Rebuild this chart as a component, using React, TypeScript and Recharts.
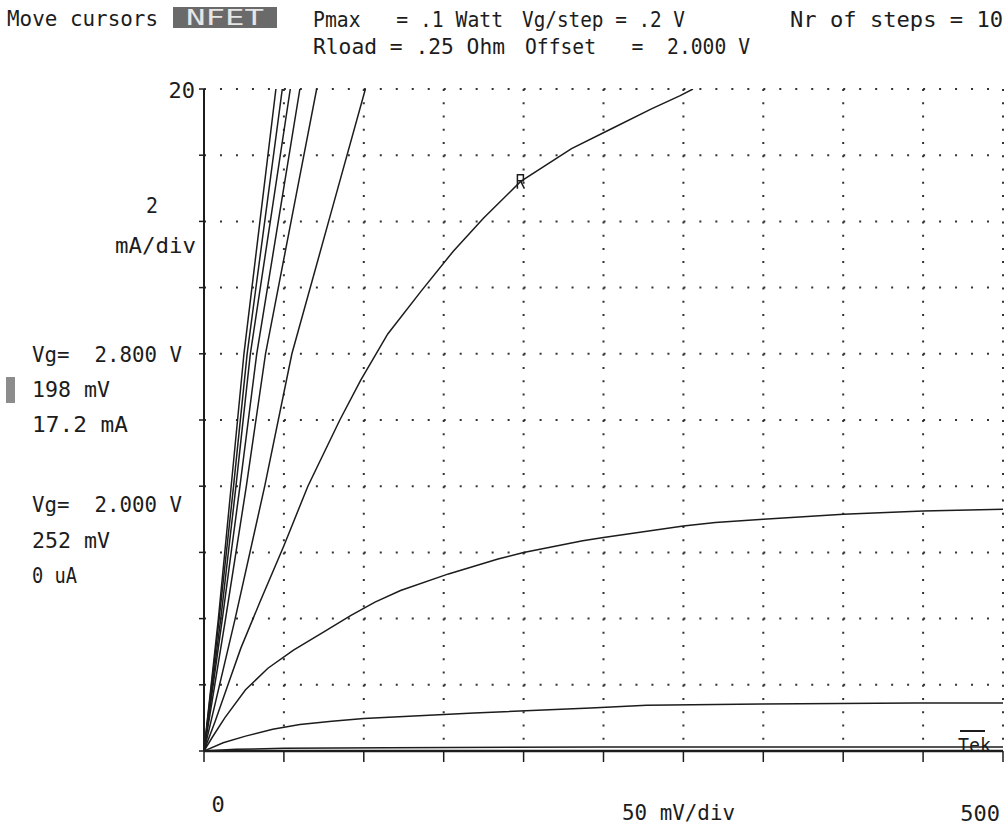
import { CartesianGrid, Line, LineChart, ReferenceDot, XAxis, YAxis } from "recharts";

// drain voltage (mV) ticks and drain current (mA) ticks
const voltTicks = [0, 50, 100, 150, 200, 250, 300, 350, 400, 450, 500];
const currentTicks = [0, 2, 4, 6, 8, 10, 12, 14, 16, 18, 20];

// one curve per gate voltage step: v = mV, i = mA
const vg20 = [
  { v: 0, i: 0 },
  { v: 500, i: 0 },
];
const vg22 = [
  { v: 0, i: 0 },
  { v: 20, i: 0.05 },
  { v: 50, i: 0.08 },
  { v: 115, i: 0.1 },
  { v: 250, i: 0.12 },
  { v: 500, i: 0.12 },
];
const vg24 = [
  { v: 0, i: 0 },
  { v: 12, i: 0.25 },
  { v: 26, i: 0.45 },
  { v: 43, i: 0.66 },
  { v: 60, i: 0.8 },
  { v: 80, i: 0.9 },
  { v: 100, i: 0.98 },
  { v: 169, i: 1.15 },
  { v: 242, i: 1.3 },
  { v: 277, i: 1.38 },
  { v: 349, i: 1.42 },
  { v: 445, i: 1.45 },
  { v: 500, i: 1.45 },
];
const vg26 = [
  { v: 0, i: 0 },
  { v: 5, i: 0.4 },
  { v: 13, i: 1.0 },
  { v: 26, i: 1.85 },
  { v: 40, i: 2.5 },
  { v: 56, i: 3.05 },
  { v: 75, i: 3.6 },
  { v: 92, i: 4.1 },
  { v: 107, i: 4.5 },
  { v: 123, i: 4.85 },
  { v: 153, i: 5.35 },
  { v: 184, i: 5.8 },
  { v: 200, i: 6.0 },
  { v: 237, i: 6.35 },
  { v: 250, i: 6.45 },
  { v: 300, i: 6.8 },
  { v: 320, i: 6.9 },
  { v: 350, i: 7.0 },
  { v: 400, i: 7.15 },
  { v: 450, i: 7.25 },
  { v: 500, i: 7.3 },
];
const vg28 = [
  { v: 0, i: 0 },
  { v: 7, i: 0.9 },
  { v: 15, i: 2.0 },
  { v: 23, i: 3.1 },
  { v: 35, i: 4.5 },
  { v: 50, i: 6.2 },
  { v: 65, i: 8.0 },
  { v: 85, i: 10.0 },
  { v: 98, i: 11.2 },
  { v: 115, i: 12.6 },
  { v: 136, i: 13.9 },
  { v: 156, i: 15.1 },
  { v: 175, i: 16.1 },
  { v: 198, i: 17.2 },
  { v: 230, i: 18.2 },
  { v: 255, i: 18.8 },
  { v: 280, i: 19.4 },
  { v: 298, i: 19.8 },
  { v: 306, i: 20 },
];
const vg30 = [
  { v: 0, i: 0 },
  { v: 19.5, i: 4 },
  { v: 38, i: 8 },
  { v: 55, i: 12 },
  { v: 78, i: 16 },
  { v: 101, i: 20 },
];
const vg32 = [
  { v: 0, i: 0 },
  { v: 13.5, i: 4 },
  { v: 26.5, i: 8 },
  { v: 38.5, i: 12 },
  { v: 54.5, i: 16 },
  { v: 70.5, i: 20 },
];
const vg34 = [
  { v: 0, i: 0 },
  { v: 11.5, i: 4 },
  { v: 22.5, i: 8 },
  { v: 33, i: 12 },
  { v: 46.5, i: 16 },
  { v: 60, i: 20 },
];
const vg36 = [
  { v: 0, i: 0 },
  { v: 10.5, i: 4 },
  { v: 20, i: 8 },
  { v: 29, i: 12 },
  { v: 41.5, i: 16 },
  { v: 54, i: 20 },
];
const vg38 = [
  { v: 0, i: 0 },
  { v: 9.5, i: 4 },
  { v: 18.5, i: 8 },
  { v: 27, i: 12 },
  { v: 38, i: 16 },
  { v: 49, i: 20 },
];
const vg40 = [
  { v: 0, i: 0 },
  { v: 9, i: 4 },
  { v: 17, i: 8 },
  { v: 25, i: 12 },
  { v: 35, i: 16 },
  { v: 45, i: 20 },
];

const curves = [
  { name: "2.0", data: vg20 },
  { name: "2.2", data: vg22 },
  { name: "2.4", data: vg24 },
  { name: "2.6", data: vg26 },
  { name: "2.8", data: vg28 },
  { name: "3.0", data: vg30 },
  { name: "3.2", data: vg32 },
  { name: "3.4", data: vg34 },
  { name: "3.6", data: vg36 },
  { name: "3.8", data: vg38 },
  { name: "4.0", data: vg40 },
];

// cursor readout on the 2.8 V curve
const cursor = { v: 198, i: 17.2 };

const FONT = '"DejaVu Sans Mono", "Liberation Mono", monospace';
const INK = "#1c1c1c";

function T({ x, y, w, size = 22, fill = INK, children }: any) {
  return (
    <text
      x={x}
      y={y}
      fontFamily={FONT}
      fontSize={size}
      fill={fill}
      textLength={w}
      lengthAdjust="spacingAndGlyphs"
      style={{ whiteSpace: "pre" }}
    >
      {children}
    </text>
  );
}

function VoltTick({ x, payload }: any) {
  if (payload.value === 0)
    return (
      <text x={x + 14} y={812} textAnchor="middle" fontFamily={FONT} fontSize={22} fill={INK}>
        0
      </text>
    );
  if (payload.value === 500)
    return (
      <text x={x - 3} y={821} textAnchor="end" fontFamily={FONT} fontSize={22} fill={INK}>
        500
      </text>
    );
  return <g />;
}

function CurrentTick({ y, payload }: any) {
  if (payload.value !== 20) return <g />;
  return (
    <text x={195} y={y + 9} textAnchor="end" fontFamily={FONT} fontSize={22} fill={INK}>
      20
    </text>
  );
}

function CursorMark({ cx, cy }: any) {
  return (
    <path
      d={`M${cx - 3},${cy + 7} L${cx - 3},${cy - 7} L${cx + 3},${cy - 7} L${cx + 3},${cy - 1} L${cx - 3},${cy - 1} M${cx},${cy - 1} L${cx + 4},${cy + 7}`}
      stroke={INK}
      strokeWidth={1.5}
      fill="none"
    />
  );
}

export default function App() {
  return (
    <div style={{ position: "absolute", left: 0, top: 0, width: 1008, height: 828, background: "#fff" }}>
      <LineChart
        width={1008}
        height={828}
        margin={{ top: 89, right: 5, bottom: 0, left: 0 }}
        style={{ position: "absolute", left: 0, top: 0 }}
      >
        <CartesianGrid vertical={false} stroke="#333" strokeWidth={2} strokeDasharray="2 13.98" />
        <CartesianGrid horizontal={false} stroke="#333" strokeWidth={2} strokeDasharray="2 11.24" />
        <XAxis
          type="number"
          dataKey="v"
          domain={[0, 500]}
          ticks={voltTicks}
          interval={0}
          allowDataOverflow
          height={77}
          tickSize={11}
          tick={<VoltTick />}
          axisLine={{ stroke: INK, strokeWidth: 2.5 }}
          tickLine={{ stroke: INK, strokeWidth: 1.5 }}
        />
        <YAxis
          type="number"
          dataKey="i"
          domain={[0, 20]}
          ticks={currentTicks}
          interval={0}
          allowDataOverflow
          width={204}
          tickSize={5}
          tick={<CurrentTick />}
          axisLine={{ stroke: INK, strokeWidth: 2 }}
          tickLine={{ stroke: INK, strokeWidth: 1.5 }}
        />
        {curves.map((c) => (
          <Line
            key={c.name}
            name={`Vg ${c.name} V`}
            data={c.data}
            dataKey="i"
            type="linear"
            stroke={INK}
            strokeWidth={1.5}
            dot={false}
            activeDot={false}
            isAnimationActive={false}
          />
        ))}
        <ReferenceDot x={cursor.v} y={cursor.i} shape={<CursorMark />} />
      </LineChart>

      <svg
        width={1008}
        height={828}
        style={{ position: "absolute", left: 0, top: 0, pointerEvents: "none" }}
      >
        <T x={7} y={26} w={151}>Move cursors</T>
        <rect x={173} y={7} width={104} height={21} fill="#6a6a6a" />
        <T x={186} y={25} w={78} fill="#e6e6e6">NFET</T>
        <T x={313} y={27} w={190}>Pmax   = .1 Watt</T>
        <T x={522} y={27} w={163}>Vg/step = .2 V</T>
        <T x={790} y={27} w={213}>Nr of steps = 10</T>
        <T x={313} y={54} w={192}>Rload = .25 Ohm</T>
        <T x={525} y={54} w={225}>Offset   =  2.000 V</T>

        <T x={146} y={213} w={12}>2</T>
        <T x={115} y={253} w={81}>mA/div</T>

        <T x={32} y={362} w={150}>Vg=  2.800 V</T>
        <rect x={6} y={377} width={9} height={26} fill="#8c8c8c" />
        <T x={32} y={397} w={78}>198 mV</T>
        <T x={32} y={432} w={96}>17.2 mA</T>
        <T x={32} y={512} w={150}>Vg=  2.000 V</T>
        <T x={32} y={548} w={78}>252 mV</T>
        <T x={32} y={583} w={45}>0 uA</T>

        <T x={622} y={820} w={113}>50 mV/div</T>

        <line x1={960} y1={731} x2={985} y2={731} stroke={INK} strokeWidth={2} />
        <T x={958} y={752} w={33} size={20}>Tek</T>
      </svg>
    </div>
  );
}
